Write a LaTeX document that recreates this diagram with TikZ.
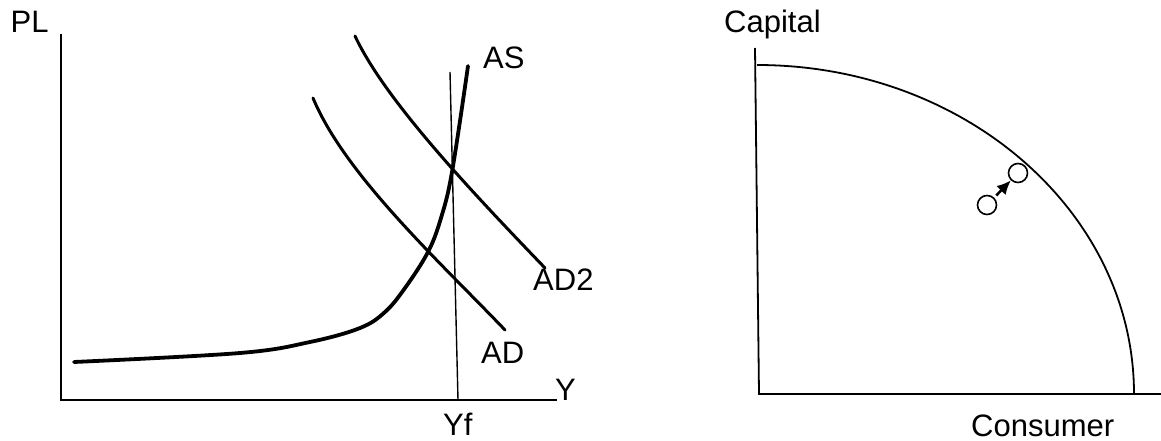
\documentclass[tikz,border=0pt]{standalone}
\usepackage{fontspec}
\setmainfont{Liberation Sans}
\usetikzlibrary{arrows.meta}
\begin{document}
\begin{tikzpicture}[x=1pt,y=-1pt,
  lbl/.style={anchor=base west,inner sep=0pt,font=\fontsize{31}{36}\selectfont},
  axis/.style={line width=1.8pt},
  thin/.style={line width=1.4pt},
  curve/.style={line width=3pt,line cap=round},
  thick curve/.style={line width=3.8pt,line cap=round},
  dot/.style={circle,draw,line width=1.6pt,minimum size=19pt,inner sep=0pt}]
\useasboundingbox (0,0) rectangle (1161,441);
% left chart
\coordinate (ytop) at (61,34);
\coordinate (orig) at (61,400);
\coordinate (xend) at (557,400);
\draw[axis] (ytop) -- (orig) -- (xend);
\coordinate (yftop) at (450,72);
\coordinate (yfbot) at (458,400);
\draw[thin] (yftop) -- (yfbot);
\node[lbl] (PL) at (10.5,33) {PL};
\node[lbl] (Y) at (555,400) {Y};
\node[lbl] (Yf) at (443,435) {Yf};
\node[lbl] (AS) at (483,69) {AS};
\node[lbl] (AD) at (481,363) {AD};
\node[lbl] (AD2) at (533,290) {AD2};
\draw[curve] (313,98) .. controls (345,175) and (440,262) .. (505,330);
\draw[curve] (355,36) .. controls (385,100) and (470,190) .. (545,268);
\draw[thick curve] plot[smooth,tension=0.6] coordinates {(74,362) (240,353) (310,342) (360,328) (385,312) (405,288) (428,252) (441,218) (452,172) (468,66)};
% right chart
\coordinate (ktop) at (755,48);
\coordinate (korig) at (759,394);
\coordinate (kxend) at (1161,394);
\draw[axis] (ktop) -- (korig) -- (kxend);
\draw[axis] (757,65) arc[start angle=90,end angle=0,x radius=377,y radius=-329];
\node[lbl] (Capital) at (724,33) {Capital};
\node[lbl] (Consumer) at (971,436) {Consumer};
\node[dot] (c1) at (987,205) {};
\node[dot] (c2) at (1018,173) {};
\draw[line width=2.6pt,-{Latex[length=14pt,width=13pt]},shorten <=3pt] (c1) -- (c2);
\end{tikzpicture}
\end{document}
